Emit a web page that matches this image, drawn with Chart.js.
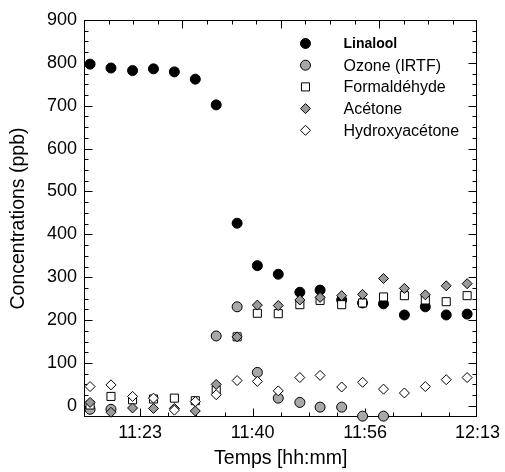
<!DOCTYPE html>
<html>
<head>
<meta charset="utf-8">
<script src="https://cdn.jsdelivr.net/npm/chart.js@4.4.0/dist/chart.umd.min.js"></script>
<style>
  html, body { margin: 0; padding: 0; background: #fff; }
</style>
</head>
<body>
<canvas id="scatterChart" width="505" height="472"></canvas>
<script>
// temps en minutes après 11:00
var times = [15.9, 19.0, 22.2, 25.3, 28.4, 31.5, 34.6, 37.7, 40.7, 43.8, 47.0, 50.0, 53.2, 56.3, 59.4, 62.5, 65.6, 68.7, 71.8];
var linalool = [797, 788, 782, 786, 779, 762, 702, 426, 327, 307, 265, 270, 247, 240, 238, 212, 231, 212, 214];
var ozone = [-8, -8, null, null, null, null, 163, 231, 78, 18, 8, -3, -3, -24, -24, null, null, null, null];
var formaldehyde = [2, 22, 14, 16, 18, 12, 37, 161, 216, 215, 236, 246, 236, 240, 254, 257, 247, 243, 257];
var acetone = [8, -15, -5, -6, -6, -12, 50, 161, 235, 234, 247, 253, 257, 260, 297, 274, 259, 280, 285];
var hydroxyacetone = [45, 49, 22, 18, -10, 10, 26, 59, 57, 35, 66, 71, 44, 55, 39, 30, 45, 61, 66];
var seriesNames = ["Linalool", "Ozone (IRTF)", "Formaldéhyde", "Acétone", "Hydroxyacétone"];
var xTickValues = [23.333, 40, 56.667, 73.333];
var xTickLabels = ["11:23", "11:40", "11:56", "12:13"];
var yTickValues = [0, 100, 200, 300, 400, 500, 600, 700, 800, 900];

Chart.defaults.font.family = "'Liberation Sans', Arial, sans-serif";
Chart.defaults.color = "#000";

function toPoints(vals) {
    return times.map(function (t, i) { return { x: t, y: vals[i] }; });
}

function makeSet(i, vals, style, radius, fill, order) {
    return {
        label: seriesNames[i],
        data: toPoints(vals),
        pointStyle: style,
        pointRadius: radius,
        pointHoverRadius: radius,
        pointBackgroundColor: fill,
        pointBorderColor: "#000",
        pointBorderWidth: 1,
        backgroundColor: fill,
        borderColor: "#000",
        showLine: false,
        clip: false,
        order: order
    };
}

var datasets = [
    makeSet(0, linalool, "circle", 5, "#000", 5),
    makeSet(1, ozone, "circle", 5, "#a8a8a8", 4),
    makeSet(2, formaldehyde, "rect", 5.7, "#fff", 3),
    makeSet(3, acetone, "rectRot", 5, "#9a9a9a", 2),
    makeSet(4, hydroxyacetone, "rectRot", 5, "#fff", 1)
];

// cadre + graduations vers l'intérieur
var frameTicks = {
    id: "frameTicks",
    beforeDatasetsDraw: function (chart) {
        var ctx = chart.ctx, a = chart.chartArea;
        var xs = chart.scales.x, ys = chart.scales.y;
        var L = Math.round(a.left) + 0.5, R = Math.round(a.right) - 0.5;
        var T = Math.round(a.top) + 0.5, B = Math.round(a.bottom) - 0.5;
        ctx.save();
        ctx.strokeStyle = "#000";
        ctx.lineWidth = 1;
        ctx.strokeRect(L, T, R - L, B - T);
        ctx.beginPath();
        for (var v = -25; v <= 900; v += 25) {
            var py = Math.round(ys.getPixelForValue(v)) + 0.5;
            if (py > B || py < T) continue;
            var len = (v % 100 === 0) ? 8 : 4;
            ctx.moveTo(L, py); ctx.lineTo(L + len, py);
            ctx.moveTo(R, py); ctx.lineTo(R - len, py);
        }
        var step = (xs.max - xs.min) / 14;
        for (var k = 1; k < 14; k++) {
            var px = Math.round(xs.getPixelForValue(xs.min + k * step)) + 0.5;
            var l2 = ((k - 2) % 4 === 0) ? 8 : 4;
            ctx.moveTo(px, B); ctx.lineTo(px, B - l2);
        }
        var step2 = (xs.max - xs.min) / 16;
        for (var j = 1; j < 16; j++) {
            var qx = Math.round(xs.getPixelForValue(xs.min + j * step2)) + 0.5;
            var l3 = (j % 4 === 0) ? 8 : 4;
            ctx.moveTo(qx, T); ctx.lineTo(qx, T + l3);
        }
        ctx.stroke();
        ctx.restore();
    }
};

// légende dans le cadre
var innerLegend = {
    id: "innerLegend",
    afterDraw: function (chart) {
        var ctx = chart.ctx, a = chart.chartArea;
        var mx = a.right - 172, tx = a.right - 134;
        var y0 = a.top + 23.5, dy = 21.7;
        ctx.save();
        chart.data.datasets.forEach(function (ds, i) {
            var y = y0 + i * dy;
            ctx.fillStyle = ds.pointBackgroundColor;
            ctx.strokeStyle = "#000";
            ctx.lineWidth = 1;
            Chart.helpers.drawPoint(ctx, {
                pointStyle: ds.pointStyle, radius: ds.pointRadius, rotation: 0, borderWidth: 1
            }, mx, y);
            ctx.fillStyle = "#000";
            ctx.textBaseline = "middle";
            ctx.textAlign = "left";
            ctx.font = (i === 0 ? "bold 14px " : "16px ") + "'Liberation Sans', Arial, sans-serif";
            ctx.fillText(ds.label, tx, y + 1);
        });
        ctx.restore();
    }
};

var ctx = document.getElementById("scatterChart");
var myChart = new Chart(ctx, {
    type: "scatter",
    data: { datasets: datasets },
    options: {
        responsive: false,
        animation: false,
        layout: { padding: { top: 20, right: 23, left: 0, bottom: 0 } },
        plugins: { legend: { display: false }, tooltip: { enabled: false } },
        scales: {
            x: {
                type: "linear",
                min: 15,
                max: 73.333,
                grid: { display: false, drawTicks: false },
                border: { display: false },
                afterBuildTicks: function (scale) {
                    scale.ticks = xTickValues.map(function (v) { return { value: v }; });
                },
                afterFit: function (scale) { scale.height = 55; },
                ticks: {
                    autoSkip: false,
                    maxRotation: 0,
                    padding: 5,
                    font: { size: 18 },
                    callback: function (value, index) { return xTickLabels[index]; }
                },
                title: {
                    display: true,
                    text: "Temps [hh:mm]",
                    font: { size: 19.5 },
                    padding: { top: 0, bottom: 2 }
                }
            },
            y: {
                type: "linear",
                min: -26,
                max: 900,
                grid: { display: false, drawTicks: false },
                border: { display: false },
                afterBuildTicks: function (scale) {
                    scale.ticks = yTickValues.map(function (v) { return { value: v }; });
                },
                afterFit: function (scale) { scale.width = 84; },
                ticks: {
                    padding: 7,
                    font: { size: 18 }
                },
                title: {
                    display: true,
                    text: "Concentrations (ppb)",
                    font: { size: 19.5 },
                    padding: { top: 7, bottom: 0 }
                }
            }
        }
    },
    plugins: [frameTicks, innerLegend]
});
</script>
</body>
</html>
